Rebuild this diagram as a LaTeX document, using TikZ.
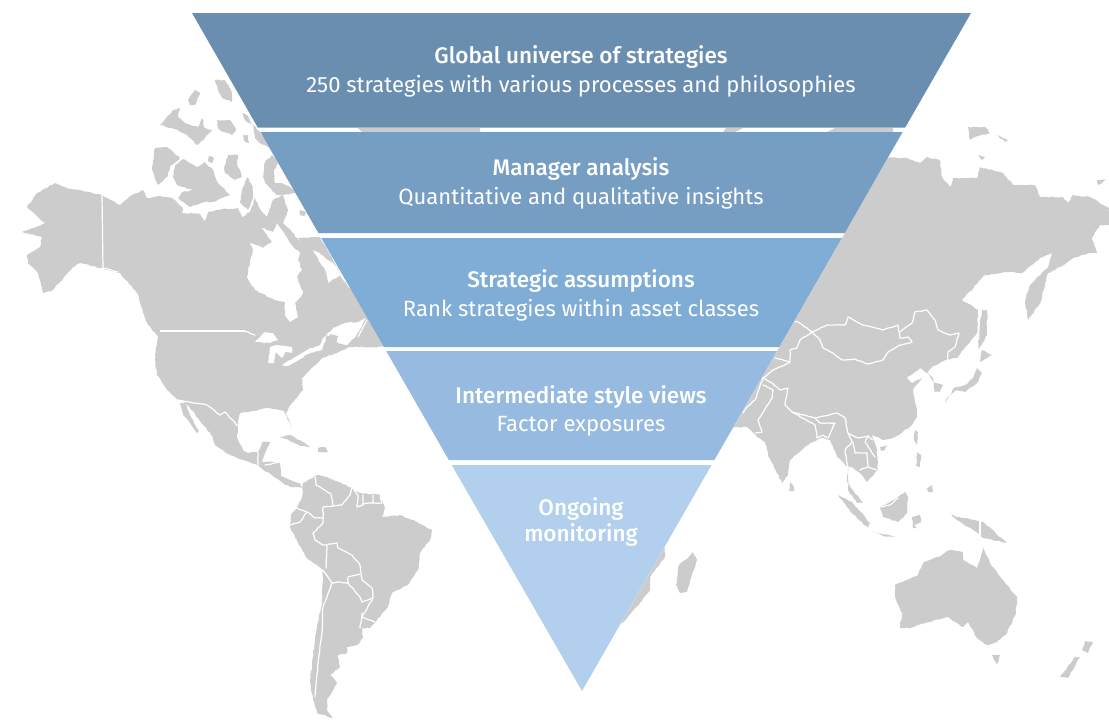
\documentclass[tikz,border=0pt]{standalone}
\usepackage{fontspec}
\usetikzlibrary{decorations.pathmorphing}
\setmainfont{Fira Sans}[BoldFont={Fira Sans Medium}]
\definecolor{landgrey}{HTML}{CCCCCC}
\definecolor{bandA}{HTML}{6A8EAF}
\definecolor{bandB}{HTML}{769DC2}
\definecolor{bandC}{HTML}{80ADD5}
\definecolor{bandD}{HTML}{97BBE0}
\definecolor{bandE}{HTML}{B2D0ED}
\tikzset{
  land/.style={fill=landgrey,draw=none,decorate,decoration={random steps,segment length=2.2pt,amplitude=0.45pt}},
  flatland/.style={fill=landgrey,draw=none},
  water/.style={fill=white,draw=none,decorate,decoration={random steps,segment length=2.2pt,amplitude=0.45pt}},
  border/.style={draw=white,line width=0.9pt,line join=round,line cap=round,decorate,decoration={random steps,segment length=2.5pt,amplitude=0.3pt}},
  straightborder/.style={draw=white,line width=0.9pt,line join=round},
  headtext/.style={anchor=base,text=white,font=\fontsize{16.9}{19}\selectfont\bfseries},
  subtext/.style={anchor=base,text=white,font=\fontsize{16.55}{19}\selectfont},
}
\begin{document}
\begin{tikzpicture}[x=0.75pt,y=-0.75pt]
\pgfmathsetseed{11}
\useasboundingbox (0,0) rectangle (1109,719);
% ---------- North America
\fill[land] (55,183)--(67,188)--(102,195)--(120,205)--(132,195)--(143,190)--(147,198)--(150,198)--(160,196)--(172,198)--(183,208)--(182,213)--(200,214)--(205,221)--(208,212)--(222,209)--(238,208)--(242,217)--(250,212)--(255,198)--(262,212)--(267,217)--(273,200)--(283,195)--(288,210)--(283,223)--(292,232)--(303,246)--(313,250)--(320,263)--(325,270)--(328,283)--(340,275)--(347,285)--(400,345)--(385,347)--(350,347)--(337,353)--(322,358)--(310,370)--(302,378)--(303,390)--(292,403)--(286,413)--(292,427)--(284,411)--(268,408)--(253,411)--(240,413)--(238,426)--(237,437)--(243,450)--(248,453)--(258,452)--(262,442)--(270,442)--(265,453)--(262,462)--(280,462)--(281,476)--(290,480)--(300,483)--(302,488)--(290,487)--(283,483)--(273,476)--(255,464)--(243,460)--(230,455)--(215,445)--(213,437)--(186,403)--(178,400)--(167,390)--(157,375)--(155,360)--(158,337)--(147,323)--(137,293)--(120,273)--(80,263)--(72,268)--(53,290)--(43,293)--(38,273)--(28,263)--(27,255)--(40,247)--(42,237)--(22,232)--(45,223)--(27,207)--(37,193)--cycle;
\fill[land] (180,403)--(186,403)--(190,415)--(199,431)--(197,433)--(190,423)--(183,415)--cycle;
% Hudson Bay, lakes, St Lawrence
\fill[water] (250,262)--(253,250)--(250,243)--(263,248)--(272,242)--(262,228)--(273,232)--(277,223)--(290,243)--(300,253)--(298,260)--(302,270)--(297,277)--(303,293)--(295,303)--(298,317)--(290,322)--(285,315)--(285,302)--(275,300)--(255,290)--(247,277)--cycle;
\fill[water] (255,342)--(265,332)--(273,333)--(278,340)--(270,343)--(260,342)--cycle;
\fill[water] (268,363)--(270,347)--(277,345)--(292,347)--(292,353)--(285,352)--(282,358)--(276,352)--(274,363)--cycle;
\fill[water] (282,365)--(295,357)--(307,350)--(320,345)--(322,340)--(326,340)--(322,350)--(308,354)--(297,361)--(287,366)--cycle;
\fill[water] (322,340)--(333,328)--(345,323)--(358,322)--(366,318)--(356,336)--(347,345)--(338,343)--(332,337)--(327,335)--(324,343)--cycle;
\fill[flatland] (330,334)--(338,336)--(336,343)--(328,342)--cycle;
% Arctic islands
\fill[land] (152,170)--(155,148)--(167,147)--(180,158)--(170,167)--(167,177)--(158,185)--cycle;
\fill[land] (175,165)--(183,159)--(197,167)--(205,162)--(213,170)--(218,183)--(230,195)--(222,198)--(213,202)--(205,202)--(190,207)--(178,198)--(182,192)--(193,190)--(177,185)--(173,177)--cycle;
\fill[land] (224,168)--(228,155)--(238,155)--(237,163)--(242,177)--(235,180)--(225,173)--cycle;
\fill[land] (247,177)--(252,185)--(253,198)--(248,210)--(240,202)--(242,190)--cycle;
\fill[land] (263,177)--(265,162)--(272,155)--(278,163)--(274,170)--(275,183)--(282,183)--(290,187)--(298,193)--(277,195)--(275,193)--(265,183)--cycle;
\fill[land] (160,125)--(173,110)--(180,108)--(178,117)--(185,123)--(198,127)--(202,118)--(205,128)--(212,130)--(205,138)--(197,145)--(187,135)--(172,128)--cycle;
\fill[land] (188,100)--(195,90)--(200,93)--(195,105)--(190,105)--cycle;
\fill[land] (215,80)--(225,80)--(232,93)--(232,102)--(222,98)--(218,90)--cycle;
\fill[land] (217,120)--(230,120)--(236,130)--(232,135)--(223,132)--(218,128)--cycle;
\fill[land] (242,113)--(247,115)--(252,125)--(245,120)--cycle;
\fill[land] (243,135)--(248,135)--(249,143)--(245,142)--cycle;
\fill[land] (253,125)--(260,132)--(270,148)--(260,143)--(255,138)--cycle;
\fill[land] (209,156)--(214,158)--(212,163)--(208,161)--cycle;
\fill[land] (298,238)--(320,237)--(330,255)--(341,275)--(335,265)--(320,253)--(303,247)--cycle;
\fill[land] (300,210)--(306,212)--(304,216)--(300,215)--cycle;
% Caribbean
\fill[land] (280,437)--(290,435)--(305,443)--(310,447)--(300,446)--(290,441)--cycle;
\fill[land] (318,448)--(325,447)--(328,452)--(318,452)--cycle;
% Borders, Americas
\draw[straightborder] (102,195)--(103,268);
\draw[border] (103,268)--(118,272);
\draw[straightborder] (160,331)--(245,331);
\draw[border] (245,331)--(255,335);
\draw[border] (178,400)--(207,405)--(220,415)--(225,412)--(238,426);
\draw[straightborder] (367,320)--(358,337);
\draw[border] (258,452)--(258,465);
\draw[border] (265,465)--(280,462);
% ---------- South America
\fill[land] (303,483)--(317,475)--(327,477)--(350,487)--(360,493)--(380,495)--(385,508)--(382,517)--(400,515)--(417,522)--(432,530)--(430,540)--(420,553)--(418,570)--(408,585)--(392,593)--(388,607)--(377,620)--(370,628)--(362,628)--(363,638)--(357,645)--(347,647)--(347,653)--(338,655)--(340,667)--(330,675)--(337,683)--(327,700)--(327,710)--(333,718)--(317,713)--(313,700)--(310,680)--(313,657)--(315,637)--(322,603)--(323,570)--(307,558)--(298,543)--(290,527)--(292,513)--(297,508)--(302,497)--cycle;
\draw[border] (315,477)--(316,485)--(331,494)--(333,506)--(323,507)--(323,523)--(313,533)--(315,540)--(323,545)--(337,543)--(338,548)--(352,555)--(360,565)--(362,580)--(372,588)--(373,598)--(365,612)--(362,617)--(375,622);
\draw[border] (333,506)--(342,505)--(350,495)--(352,487)--(358,495)--(357,507)--(363,505)--(363,495);
\draw[border] (363,504)--(373,503)--(373,495);
\draw[border] (373,503)--(382,503)--(380,497);
\draw[border] (297,508)--(307,512)--(315,518)--(323,518);
\draw[border] (307,512)--(300,522)--(290,525);
\draw[border] (327,545)--(326,568);
\draw[border] (323,570)--(332,583)--(337,582)--(348,583)--(348,577)--(360,574);
\draw[border] (348,583)--(360,597)--(362,602)--(373,598);
\draw[border] (332,583)--(323,607)--(322,633)--(318,663)--(315,697);
\draw[border] (362,613)--(360,628);
% ---------- Eurasia
\fill[land] (870,157)--(907,158)--(920,163)--(927,157)--(940,160)--(942,177)--(950,187)--(953,178)--(977,178)--(980,167)--(1003,173)--(1013,185)--(1035,185)--(1040,197)--(1063,197)--(1068,203)--(1073,195)--(1090,197)--(1109,208)--(1109,225)--(1100,225)--(1092,238)--(1097,253)--(1090,253)--(1073,258)--(1060,267)--(1048,273)--(1040,303)--(1028,320)--(1025,300)--(1030,285)--(1048,267)--(1052,253)--(1040,258)--(1022,273)--(1007,272)--(985,275)--(962,300)--(978,310)--(977,333)--(957,358)--(953,358)--(940,363)--(928,372)--(933,382)--(943,385)--(940,392)--(935,392)--(933,378)--(927,373)--(920,368)--(907,378)--(912,383)--(922,378)--(913,390)--(917,410)--(917,417)--(910,427)--(893,438)--(883,440)--(872,435)--(877,450)--(878,470)--(867,482)--(860,473)--(852,467)--(848,467)--(847,482)--(863,503)--(857,503)--(848,490)--(848,467)--(837,457)--(830,440)--(822,438)--(810,443)--(790,460)--(788,475)--(782,483)--(768,455)--(765,442)--(757,437)--(747,427)--(720,428)--(740,380)--cycle;
% Russian Arctic islands
\fill[land] (968,127)--(973,127)--(985,127)--(990,133)--(975,137)--(970,140)--cycle;
\fill[land] (997,135)--(1008,140)--(1005,142)--cycle;
\fill[land] (978,155)--(985,157)--(982,160)--cycle;
\fill[land] (1097,180)--(1106,180)--(1098,185)--cycle;
% Sakhalin, Japan, islands
\fill[land] (982,310)--(987,310)--(987,335)--(978,350)--(980,325)--cycle;
\fill[land] (982,350)--(992,355)--(980,362)--cycle;
\fill[land] (977,368)--(982,373)--(977,383)--(965,392)--(957,390)--(947,398)--(945,403)--(955,387)--(965,385)--(973,378)--cycle;
\fill[land] (915,430)--(918,432)--(917,445)--(914,440)--cycle;
\fill[land] (880,447)--(887,445)--(885,450)--(881,451)--cycle;
\fill[land] (917,452)--(921,455)--(920,467)--(916,466)--cycle;
\fill[land] (927,488)--(932,485)--(933,492)--(928,492)--cycle;
\fill[land] (790,482)--(794,487)--(794,491)--(789,491)--cycle;
\fill[land] (838,495)--(853,503)--(870,523)--(868,528)--(857,518)--(847,507)--cycle;
\fill[land] (872,531)--(895,537)--(883,536)--cycle;
\fill[land] (905,492)--(908,497)--(907,513)--(898,522)--(883,517)--(880,507)--(893,500)--cycle;
\fill[land] (912,517)--(920,515)--(921,522)--(914,525)--(917,528)--(913,528)--cycle;
\fill[land] (950,513)--(957,517)--(967,518)--(983,522)--(1000,537)--(1007,543)--(993,540)--(983,538)--(973,530)--(962,523)--(953,517)--cycle;
% Australia, NZ
\fill[land] (983,547)--(990,563)--(1005,583)--(1017,597)--(1016,613)--(1007,633)--(997,642)--(987,645)--(977,638)--(968,622)--(963,627)--(948,617)--(928,622)--(910,628)--(900,628)--(902,613)--(895,597)--(895,585)--(918,575)--(923,563)--(938,557)--(950,550)--(963,552)--(963,560)--(977,568)--(980,560)--cycle;
\fill[land] (992,655)--(1000,655)--(997,665)--cycle;
\fill[land] (1085,641)--(1093,642)--(1088,653)--(1082,650)--cycle;
\fill[land] (1075,657)--(1080,657)--(1068,678)--(1060,677)--cycle;
% Africa, Madagascar
\fill[land] (693,552)--(697,560)--(687,592)--(680,593)--(676,585)--(679,565)--(688,558)--cycle;
\fill[land] (665,548)--(665,557)--(650,577)--(650,590)--(640,603)--(622,623)--(600,600)--(640,540)--cycle;
% Borders, Asia
\draw[border] (812,332)--(827,325)--(845,325)--(848,317)--(863,325)--(883,330)--(898,325)--(900,338)--(908,337)--(912,342)--(900,345)--(888,352)--(883,360)--(867,364)--(855,359)--(842,360)--(833,353)--(823,348)--(820,340)--cycle;
\draw[border] (900,332)--(912,323)--(915,312)--(927,310)--(935,320)--(938,330)--(950,335)--(959,333)--(955,347)--(948,352)--(948,360)--(933,367)--(928,373);
\draw[border] (933,380)--(942,382);
\draw[border] (812,332)--(798,322)--(790,320);
\draw[border] (812,332)--(800,340)--(797,348)--(790,350)--(790,362)--(773,370)--(763,378)--(772,383)--(780,390)--(788,388)--(785,405)--(792,412)--(815,418)--(837,413)--(845,418)--(848,433)--(858,438)--(868,436)--(873,440);
\draw[border] (775,358)--(790,362);
\draw[border] (763,385)--(773,390)--(772,398)--(758,420)--(762,432)--(755,433);
\draw[border] (763,378)--(755,400)--(747,407)--(743,413);
\draw[border] (792,412)--(815,425)--(817,438)--(823,435)--(828,438)--(835,423)--(820,423)--(815,418);
\draw[border] (848,433)--(852,442)--(845,450)--(848,467);
\draw[border] (853,442)--(855,453)--(867,453)--(868,467)--(877,470);
\draw[border] (868,436)--(865,442)--(875,457);
\draw[border] (860,470)--(868,467);
\draw[straightborder] (980,520)--(980,540);
\draw[border] (880,507)--(890,505)--(898,498);
% ---------- Funnel: white ground, then the gap slivers, then the bands
\fill[white] (192,13)--(971,13)--(582,691)--cycle;
\fill[flatland] (358,128)--(480,128)--(480,132)--(362,132)--cycle;
\fill[flatland] (726,128)--(743,128)--(735,132)--(723,132)--cycle;
\fill[flatland] (835,128)--(893,128)--(893,132)--(827,132)--cycle;
\fill[bandA] (192,13)--(971,13)--(905.2,127.5)--(257.8,127.5)--cycle;
\fill[bandB] (260.4,132)--(902.6,132)--(844.8,233)--(318.4,233)--cycle;
\fill[bandC] (321.3,238)--(841.9,238)--(779.3,347)--(383.9,347)--cycle;
\fill[bandD] (386.2,351)--(777,351)--(714.4,460)--(448.8,460)--cycle;
\fill[bandE] (451.7,465)--(711.5,465)--(582,691)--cycle;
% ---------- Text
\node[headtext] (t1a) at (581,63.7) {Global universe of strategies};
\node[subtext]  (t1b) at (581,92.7) {250 strategies with various processes and philosophies};
\node[headtext] (t2a) at (581,175.7) {Manager analysis};
\node[subtext]  (t2b) at (581,204.7) {Quantitative and qualitative insights};
\node[headtext] (t3a) at (581,287.7) {Strategic assumptions};
\node[subtext]  (t3b) at (581,316.7) {Rank strategies within asset classes};
\node[headtext] (t4a) at (581,403.7) {Intermediate style views};
\node[subtext]  (t4b) at (581,431.7) {Factor exposures};
\node[headtext] (t5a) at (581,515.7) {Ongoing};
\node[headtext] (t5b) at (581,541.7) {monitoring};
\end{tikzpicture}
\end{document}
